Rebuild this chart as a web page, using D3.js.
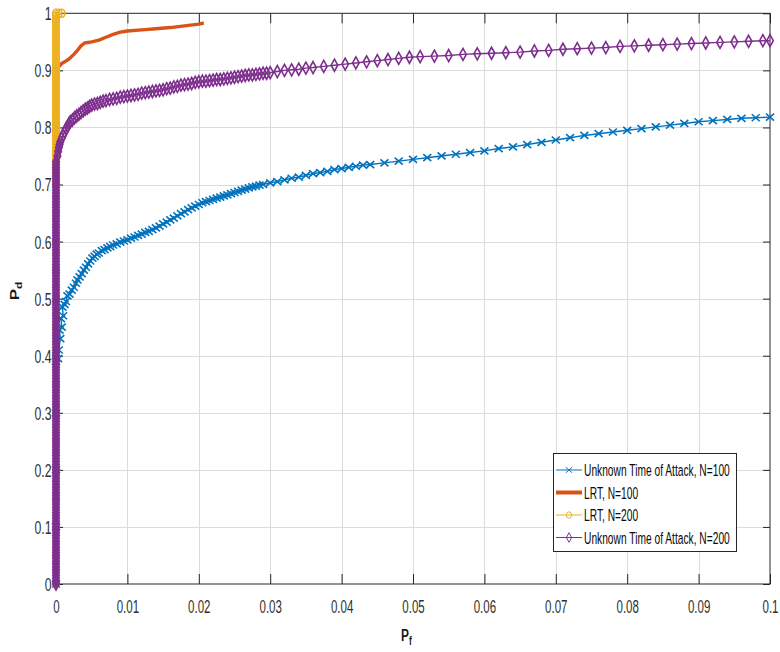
<!DOCTYPE html>
<html>
<head>
<meta charset="utf-8">
<script src="https://cdn.jsdelivr.net/npm/d3@7"></script>
<style>
  html, body { margin: 0; padding: 0; background: #fff; }
  svg { display: block; }
</style>
</head>
<body>
<svg id="chart" width="780" height="652"></svg>
<script>
// ---- axis ticks ----
const xTicks = [0, 0.01, 0.02, 0.03, 0.04, 0.05, 0.06, 0.07, 0.08, 0.09, 0.1];
const xTickLabels = ["0", "0.01", "0.02", "0.03", "0.04", "0.05", "0.06", "0.07", "0.08", "0.09", "0.1"];
const yTicks = [0, 0.1, 0.2, 0.3, 0.4, 0.5, 0.6, 0.7, 0.8, 0.9, 1];
const yTickLabels = ["0", "0.1", "0.2", "0.3", "0.4", "0.5", "0.6", "0.7", "0.8", "0.9", "1"];

// ---- Unknown Time of Attack, N=100 : [Pf, Pd] ----
const unknown100 = [
  [0, 0], [0, 0.1], [0, 0.2], [0, 0.3], [0, 0.39],
  [0.0003, 0.395], [0.0004, 0.41], [0.0006, 0.43], [0.0005, 0.445], [0.0008, 0.45],
  [0.0007, 0.465], [0.001, 0.47], [0.0009, 0.485], [0.0012, 0.49], [0.0014, 0.495],
  [0.0016, 0.505], [0.0019, 0.508], [0.0022, 0.515], [0.0025, 0.52], [0.0028, 0.527],
  [0.003, 0.533], [0.0033, 0.538], [0.0036, 0.544], [0.0039, 0.55], [0.0042, 0.555],
  [0.0045, 0.561], [0.0048, 0.566], [0.0051, 0.571], [0.0054, 0.574], [0.0057, 0.578],
  [0.006, 0.58], [0.0064, 0.584], [0.0068, 0.586], [0.0072, 0.589], [0.0076, 0.591],
  [0.008, 0.594], [0.0085, 0.596], [0.009, 0.599], [0.0095, 0.601], [0.01, 0.603],
  [0.0105, 0.606], [0.011, 0.608], [0.0115, 0.611], [0.012, 0.613], [0.0125, 0.616],
  [0.013, 0.618], [0.0135, 0.621], [0.014, 0.624], [0.0145, 0.627], [0.015, 0.631],
  [0.0155, 0.634], [0.016, 0.638], [0.0165, 0.641], [0.017, 0.645], [0.0175, 0.649],
  [0.018, 0.652], [0.0185, 0.656], [0.019, 0.659], [0.0195, 0.662], [0.02, 0.665],
  [0.0205, 0.668], [0.021, 0.67], [0.0215, 0.672], [0.022, 0.674], [0.0225, 0.676],
  [0.023, 0.678], [0.0235, 0.68], [0.024, 0.682], [0.0245, 0.684], [0.025, 0.686],
  [0.0255, 0.688], [0.026, 0.69], [0.0265, 0.692], [0.027, 0.694], [0.0275, 0.696],
  [0.028, 0.697], [0.0285, 0.699], [0.029, 0.70], [0.03, 0.703], [0.031, 0.705],
  [0.032, 0.708], [0.033, 0.711], [0.034, 0.713], [0.035, 0.716], [0.036, 0.719],
  [0.037, 0.721], [0.038, 0.723], [0.039, 0.726], [0.040, 0.728], [0.041, 0.730],
  [0.042, 0.732], [0.043, 0.734], [0.044, 0.735], [0.046, 0.738],
  [0.048, 0.741], [0.05, 0.744], [0.052, 0.747], [0.054, 0.75], [0.056, 0.753],
  [0.058, 0.756], [0.06, 0.759], [0.062, 0.763], [0.064, 0.766], [0.066, 0.77],
  [0.068, 0.774], [0.07, 0.778], [0.072, 0.782], [0.074, 0.786], [0.076, 0.789],
  [0.078, 0.792], [0.08, 0.795], [0.082, 0.798], [0.084, 0.801], [0.086, 0.804],
  [0.088, 0.807], [0.09, 0.81], [0.092, 0.812], [0.094, 0.814], [0.096, 0.816],
  [0.098, 0.817], [0.1, 0.818]
];

// ---- LRT, N=100 : [Pf, Pd] ----
const lrt100 = [
  [0, 0], [0, 0.905],
  [0.0002, 0.905], [0.0005, 0.908], [0.0008, 0.912], [0.0012, 0.915], [0.0016, 0.918],
  [0.002, 0.922], [0.0025, 0.928], [0.003, 0.935], [0.0035, 0.943], [0.004, 0.948],
  [0.005, 0.95], [0.006, 0.953], [0.007, 0.958], [0.008, 0.963], [0.009, 0.967],
  [0.01, 0.969], [0.012, 0.971], [0.014, 0.973], [0.016, 0.975], [0.018, 0.978],
  [0.02, 0.981], [0.0207, 0.983]
];

// ---- LRT, N=200 : Pd values along Pf = 0, then the top points ----
const lrt200AtZeroPf = [
  0, 0.05, 0.1, 0.15, 0.2, 0.25, 0.3, 0.35, 0.4, 0.45, 0.5, 0.55, 0.6, 0.65, 0.7,
  0.705, 0.71, 0.715, 0.72, 0.725, 0.73, 0.735, 0.74, 0.745, 0.75, 0.755, 0.76, 0.765,
  0.77, 0.775, 0.78, 0.785, 0.79, 0.795, 0.8, 0.805, 0.81, 0.815, 0.82, 0.825, 0.83,
  0.835, 0.84, 0.845, 0.85, 0.855, 0.86, 0.865, 0.87, 0.875, 0.88, 0.885, 0.89, 0.895,
  0.9, 0.905, 0.91, 0.915, 0.92, 0.925, 0.93, 0.935, 0.94, 0.945, 0.95, 0.955, 0.96,
  0.965, 0.97, 0.975, 0.98, 0.985, 0.99, 0.995, 1
];
const lrt200Top = [[0.0004, 1], [0.0008, 1]];

// ---- Unknown Time of Attack, N=200 : Pd values along Pf = 0, then the curve ----
const unknown200AtZeroPf = [
  0, 0.005, 0.01, 0.015, 0.02, 0.025, 0.03, 0.035, 0.04, 0.045,
  0.05, 0.055, 0.06, 0.065, 0.07, 0.075, 0.08, 0.085, 0.09, 0.095,
  0.1, 0.105, 0.11, 0.115, 0.12, 0.125, 0.13, 0.135, 0.14, 0.145,
  0.15, 0.155, 0.16, 0.165, 0.17, 0.175, 0.18, 0.185, 0.19, 0.195,
  0.2, 0.205, 0.21, 0.215, 0.22, 0.225, 0.23, 0.235, 0.24, 0.245,
  0.25, 0.255, 0.26, 0.265, 0.27, 0.275, 0.28, 0.285, 0.29, 0.295,
  0.3, 0.305, 0.31, 0.315, 0.32, 0.325, 0.33, 0.335, 0.34, 0.345,
  0.35, 0.355, 0.36, 0.365, 0.37, 0.375, 0.38, 0.385, 0.39, 0.395,
  0.4, 0.405, 0.41, 0.415, 0.42, 0.425, 0.43, 0.435, 0.44, 0.445,
  0.45, 0.455, 0.46, 0.465, 0.47, 0.475, 0.48, 0.485, 0.49, 0.495,
  0.5, 0.505, 0.51, 0.515, 0.52, 0.525, 0.53, 0.535, 0.54, 0.545,
  0.55, 0.555, 0.56, 0.565, 0.57, 0.575, 0.58, 0.585, 0.59, 0.595,
  0.6, 0.605, 0.61, 0.615, 0.62, 0.625, 0.63, 0.635, 0.64, 0.645,
  0.65, 0.655, 0.66, 0.665, 0.67, 0.675, 0.68, 0.685, 0.69, 0.695,
  0.7, 0.705, 0.71, 0.715, 0.72, 0.725, 0.73, 0.735, 0.74
];
const unknown200Curve = [
  [0.0002, 0.75], [0.0003, 0.758], [0.0004, 0.765], [0.0005, 0.77], [0.0006, 0.775],
  [0.0008, 0.781], [0.001, 0.787], [0.0012, 0.792], [0.0014, 0.797], [0.0016, 0.802],
  [0.0018, 0.806], [0.002, 0.81], [0.0023, 0.813], [0.0026, 0.817], [0.0029, 0.82],
  [0.0032, 0.823], [0.0035, 0.826], [0.0038, 0.829], [0.0041, 0.832], [0.0044, 0.834],
  [0.0047, 0.837], [0.005, 0.839], [0.0054, 0.841], [0.0058, 0.842], [0.0062, 0.844],
  [0.0066, 0.846], [0.007, 0.847], [0.0075, 0.849], [0.008, 0.85], [0.0085, 0.851],
  [0.009, 0.853], [0.0095, 0.854], [0.01, 0.855], [0.0105, 0.856], [0.011, 0.857],
  [0.0115, 0.858], [0.012, 0.86], [0.0125, 0.861], [0.013, 0.862], [0.0135, 0.863],
  [0.014, 0.864], [0.0145, 0.865], [0.015, 0.866], [0.0155, 0.868], [0.016, 0.869],
  [0.0165, 0.871], [0.017, 0.872], [0.0175, 0.874], [0.018, 0.875], [0.0185, 0.876],
  [0.019, 0.877], [0.0195, 0.879], [0.02, 0.88], [0.0205, 0.881], [0.021, 0.881],
  [0.0215, 0.882], [0.022, 0.883], [0.0225, 0.884], [0.023, 0.884], [0.0235, 0.885],
  [0.024, 0.886], [0.0245, 0.887], [0.025, 0.888], [0.0255, 0.889], [0.026, 0.89],
  [0.0265, 0.891], [0.027, 0.892], [0.0275, 0.892], [0.028, 0.893], [0.0285, 0.894],
  [0.029, 0.895], [0.0295, 0.895], [0.03, 0.896], [0.031, 0.898], [0.032, 0.9],
  [0.033, 0.901], [0.034, 0.902], [0.035, 0.904], [0.036, 0.905],
  [0.0375, 0.907], [0.039, 0.909], [0.0405, 0.911], [0.042, 0.913], [0.0435, 0.915],
  [0.045, 0.917], [0.0465, 0.919], [0.048, 0.921], [0.0495, 0.923], [0.051, 0.924],
  [0.053, 0.925], [0.055, 0.926], [0.057, 0.928], [0.059, 0.929], [0.061, 0.93],
  [0.063, 0.931], [0.065, 0.932], [0.067, 0.934], [0.069, 0.935], [0.071, 0.937],
  [0.073, 0.938], [0.075, 0.939], [0.077, 0.94], [0.079, 0.942], [0.081, 0.943],
  [0.083, 0.944], [0.085, 0.945], [0.087, 0.946], [0.089, 0.947], [0.091, 0.948],
  [0.093, 0.949], [0.095, 0.95], [0.097, 0.951], [0.099, 0.952], [0.1, 0.952]
];

const seriesNames = [
  "Unknown Time of Attack, N=100",
  "LRT, N=100",
  "LRT, N=200",
  "Unknown Time of Attack, N=200"
];

// ---- chart setup ----
const W = 780, H = 652;
const plot = { left: 56, right: 770, top: 13.3, bottom: 584 };
const TEXT_SX = 0.64;         // narrow glyph width used for all text
const FONT = "'Liberation Sans', Arial, Helvetica, sans-serif";
const INK = "#262626";

const svg = d3.select("#chart");
svg.append("rect").attr("width", W).attr("height", H).attr("fill", "#fff");

const x = d3.scaleLinear().domain([0, 0.1]).range([plot.left, plot.right]);
const y = d3.scaleLinear().domain([0, 1]).range([plot.bottom, plot.top]);

// grid
const grid = svg.append("g").attr("stroke", "#dcdcdc").attr("stroke-width", 1);
grid.selectAll("line.gx").data(xTicks.slice(1, -1)).join("line")
  .attr("x1", d => Math.round(x(d)) + 0.5).attr("x2", d => Math.round(x(d)) + 0.5)
  .attr("y1", plot.top).attr("y2", plot.bottom);
grid.selectAll("line.gy").data(yTicks.slice(1, -1)).join("line")
  .attr("y1", d => Math.round(y(d)) + 0.5).attr("y2", d => Math.round(y(d)) + 0.5)
  .attr("x1", plot.left).attr("x2", plot.right);

// axes (ticks point inward, MATLAB style)
const axB = svg.append("g").attr("transform", `translate(0,${plot.bottom})`)
  .call(d3.axisBottom(x).tickValues(xTicks).tickFormat((d, i) => xTickLabels[i])
    .tickSizeInner(-10).tickSizeOuter(0).tickPadding(0));
const axT = svg.append("g").attr("transform", `translate(0,${plot.top})`)
  .call(d3.axisTop(x).tickValues(xTicks).tickFormat("").tickSizeInner(-10).tickSizeOuter(0));
const axL = svg.append("g").attr("transform", `translate(${plot.left},0)`)
  .call(d3.axisLeft(y).tickValues(yTicks).tickFormat((d, i) => yTickLabels[i])
    .tickSizeInner(-7).tickSizeOuter(0).tickPadding(0));
const axR = svg.append("g").attr("transform", `translate(${plot.right},0)`)
  .call(d3.axisRight(y).tickValues(yTicks).tickFormat("").tickSizeInner(-7).tickSizeOuter(0));

[axB, axT, axL, axR].forEach(g => {
  g.select(".domain").remove();
  g.selectAll(".tick line").attr("stroke", INK).attr("stroke-width", 1);
});
axB.selectAll(".tick text")
  .attr("font-family", FONT).attr("font-size", 18).attr("fill", "#303030")
  .attr("y", 0).attr("dy", 0)
  .attr("transform", `translate(0,29) scale(${TEXT_SX},1)`);
axL.selectAll(".tick text")
  .attr("font-family", FONT).attr("font-size", 18).attr("fill", "#303030")
  .attr("x", 0).attr("dy", "0.36em")
  .attr("transform", `translate(-4.5,0) scale(0.68,1)`);
[axB, axL].forEach(g => g.attr("font-size", null).attr("font-family", null));

// box
svg.append("rect")
  .attr("x", plot.left).attr("y", plot.top)
  .attr("width", plot.right - plot.left).attr("height", plot.bottom - plot.top)
  .attr("fill", "none").attr("stroke", INK).attr("stroke-width", 1);

// ---- series ----
const line = d3.line().x(d => x(d[0])).y(d => y(d[1]));

const markerX = "M-4,-3.5L4,3.5M-4,3.5L4,-3.5";
const markerDiamond = "M0,-6L3.3,0L0,6L-3.3,0Z";

const series = [
  { name: seriesNames[0], color: "#0072BD", width: 1.4, data: unknown100, marker: "x" },
  { name: seriesNames[1], color: "#D95319", width: 3.4, data: lrt100, marker: null },
  { name: seriesNames[2], color: "#EDB120", width: 1.8,
    data: lrt200AtZeroPf.map(v => [0, v]).concat(lrt200Top), marker: "o" },
  { name: seriesNames[3], color: "#7E2F8E", width: 1.4,
    data: unknown200AtZeroPf.map(v => [0, v]).concat(unknown200Curve), marker: "d" }
];

function drawMarker(g, kind, color, sw) {
  if (kind === "x") {
    g.append("path").attr("d", markerX).attr("fill", "none")
      .attr("stroke", color).attr("stroke-width", sw);
  } else if (kind === "d") {
    g.append("path").attr("d", markerDiamond).attr("fill", "none")
      .attr("stroke", color).attr("stroke-width", sw);
  } else if (kind === "o") {
    g.append("ellipse").attr("rx", 3.3).attr("ry", 4).attr("fill", "none")
      .attr("stroke", color).attr("stroke-width", sw);
  }
}

const plotG = svg.append("g");
series.forEach(s => {
  const g = plotG.append("g");
  g.append("path").datum(s.data).attr("d", line)
    .attr("fill", "none").attr("stroke", s.color)
    .attr("stroke-width", s.width).attr("stroke-linejoin", "round");
  if (s.marker) {
    g.selectAll("g.m").data(s.data).join("g")
      .attr("transform", d => `translate(${x(d[0])},${y(d[1])})`)
      .each(function () { drawMarker(d3.select(this), s.marker, s.color, 1.6); });
  }
});

// ---- axis labels ----
const xl = svg.append("text")
  .attr("transform", `translate(401,641) scale(0.7,1)`)
  .attr("font-family", FONT).attr("font-weight", "bold").attr("font-size", 17).attr("fill", "#1a1a1a");
xl.append("tspan").text("P");
xl.append("tspan").attr("font-size", 12).attr("dy", 4).text("f");

const yl = svg.append("text")
  .attr("transform", `translate(19,291) scale(0.7,1) rotate(-90)`)
  .attr("text-anchor", "middle")
  .attr("font-family", FONT).attr("font-weight", "bold").attr("font-size", 17).attr("fill", "#1a1a1a");
yl.append("tspan").text("P");
yl.append("tspan").attr("font-size", 12).attr("dy", 4).text("d");

// ---- legend ----
const lg = svg.append("g");
lg.append("rect").attr("x", 553.5).attr("y", 453.5).attr("width", 183).attr("height", 98)
  .attr("fill", "#fff").attr("stroke", INK).attr("stroke-width", 1);
const rowY = [470, 492.5, 515, 537.5];
series.forEach((s, i) => {
  const ry = rowY[i];
  lg.append("line").attr("x1", 556).attr("x2", 582).attr("y1", ry).attr("y2", ry)
    .attr("stroke", s.color).attr("stroke-width", s.marker ? 1 : 4);
  if (s.marker) {
    const mg = lg.append("g").attr("transform", `translate(569,${ry}) scale(0.8)`);
    drawMarker(mg, s.marker, s.color, 1.2);
  }
  lg.append("text")
    .attr("transform", `translate(584,${ry + 6}) scale(0.62,1)`)
    .attr("font-family", FONT).attr("font-size", 16.5).attr("fill", "#0a0a0a")
    .text(s.name);
});
</script>
</body>
</html>
